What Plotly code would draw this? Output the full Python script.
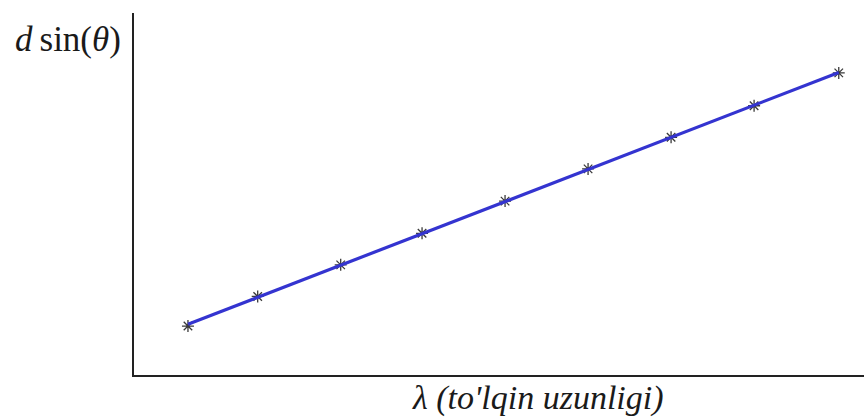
import numpy as np
import plotly.graph_objects as go

# Measured wavelengths and the corresponding d·sin(θ) values (arbitrary units)
wavelength = [400, 442, 492, 541, 591, 641, 691, 741, 792]
d_sin_theta = [400, 446, 495, 544, 594, 644, 693, 742, 793]

# Least-squares straight line through the measurements
slope, intercept = np.polyfit(wavelength, d_sin_theta, 1)
fit_x = [wavelength[0], wavelength[-1]]
fit_y = [slope * v + intercept for v in fit_x]

fig = go.Figure()

fig.add_trace(go.Scatter(
    x=wavelength, y=d_sin_theta, mode="markers",
    marker=dict(symbol="asterisk-open", size=10, color="#3a3a3a",
                line=dict(color="#3a3a3a", width=1.3)),
    showlegend=False, hoverinfo="skip",
))

fig.add_trace(go.Scatter(
    x=fit_x, y=fit_y, mode="lines",
    line=dict(color="#3434d0", width=3.2),
    showlegend=False, hoverinfo="skip",
))

serif = "Liberation Serif"

fig.update_layout(
    width=864, height=419,
    margin=dict(l=134, r=0, t=13, b=44),
    paper_bgcolor="white", plot_bgcolor="white",
    xaxis=dict(range=[367.5, 807.2], showgrid=False, zeroline=False,
               showticklabels=False, ticks="", showline=True,
               linecolor="#222222", linewidth=2),
    yaxis=dict(range=[324, 886], showgrid=False, zeroline=False,
               showticklabels=False, ticks="", showline=True,
               linecolor="#222222", linewidth=2),
    annotations=[
        dict(text="<i>d</i>\u2009sin(<i>θ</i>)", xref="paper", yref="paper",
             x=-0.091, y=0.927, xanchor="center", yanchor="middle",
             showarrow=False,
             font=dict(family=serif, size=35, color="#1a1a1a")),
        dict(text="<i>λ (to'lqin uzunligi)</i>", xref="paper", yref="paper",
             x=0.553, y=-0.063, xanchor="center", yanchor="middle",
             showarrow=False,
             font=dict(family=serif, size=34, color="#1a1a1a")),
    ],
)

fig.write_html("out.html")
